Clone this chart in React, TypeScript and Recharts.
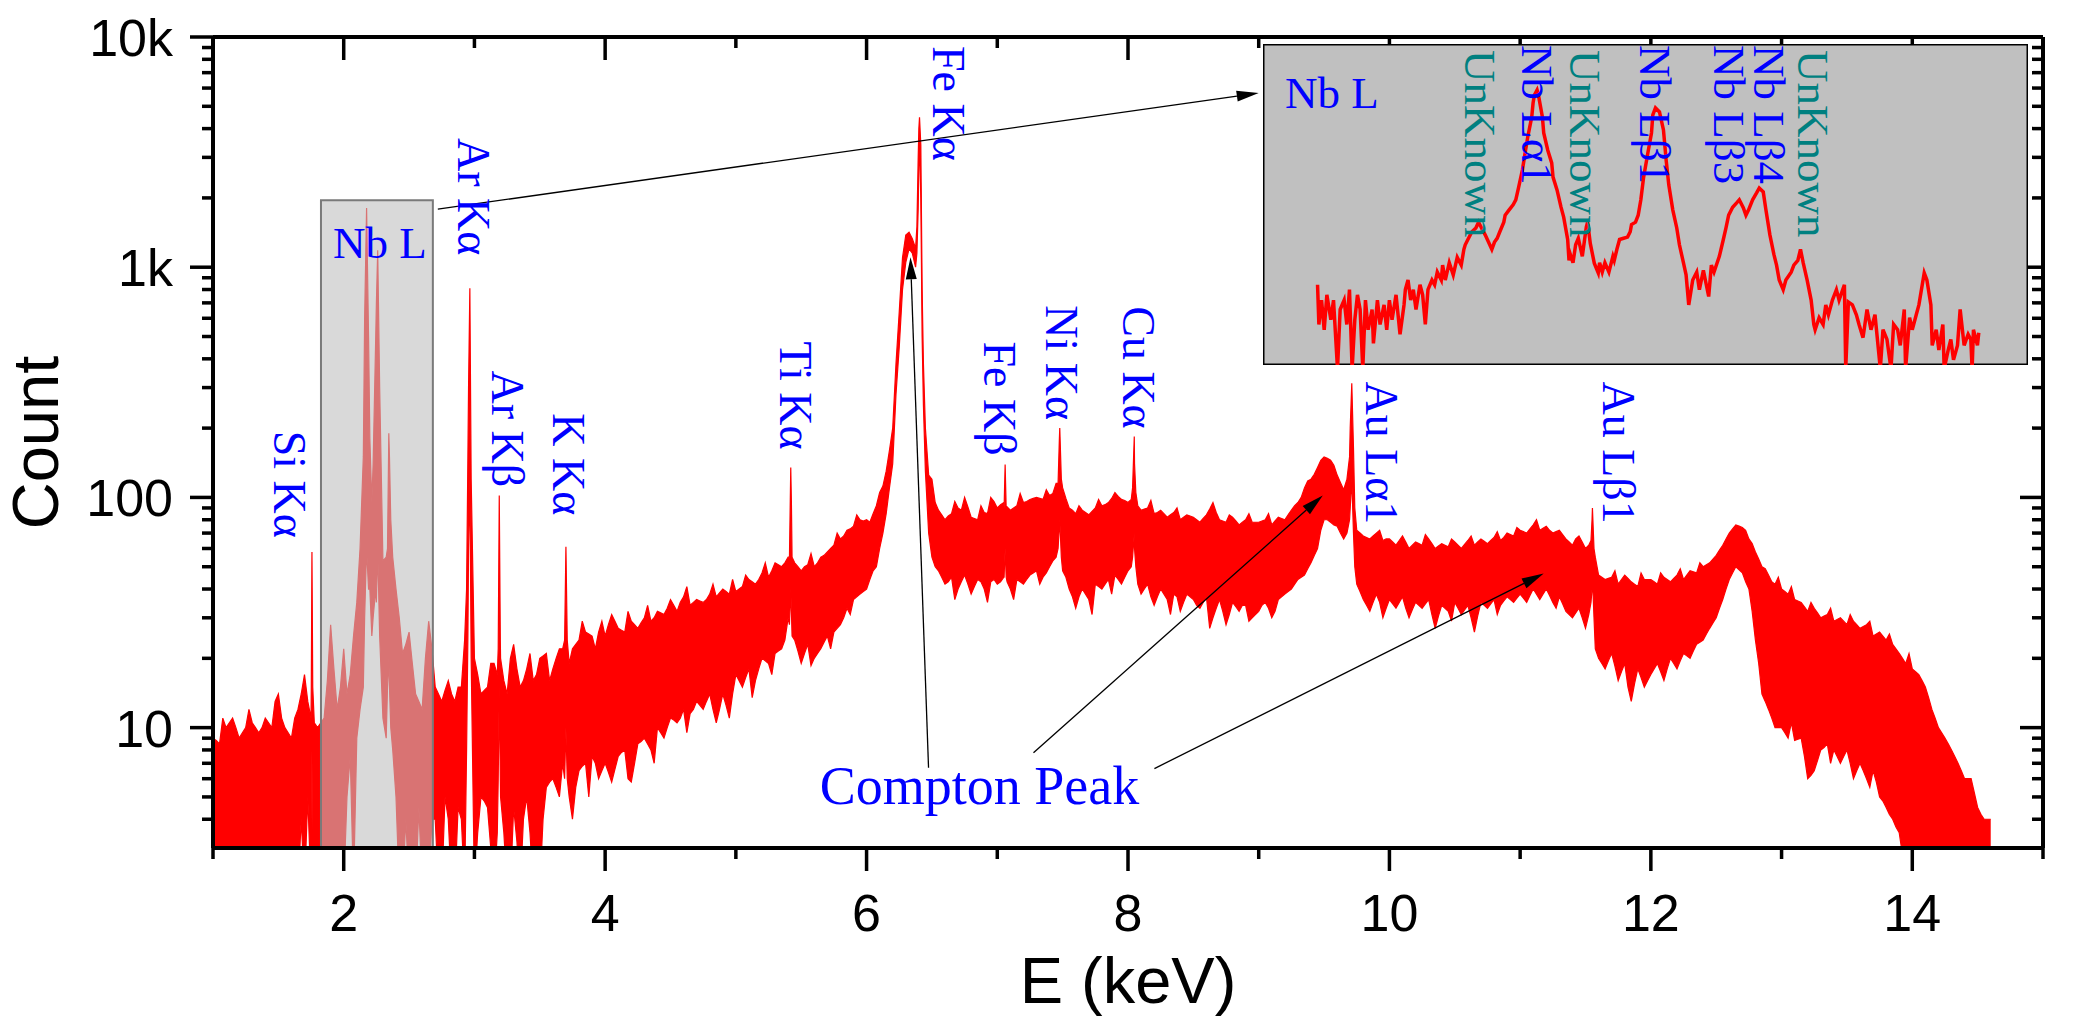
import React from 'react';
import {
  ComposedChart, LineChart, Area, Line, XAxis, YAxis,
  ReferenceArea, ReferenceLine, ReferenceDot,
} from 'recharts';

// main spectrum: channel bins (keV) with the top and bottom of the noise band (counts)
const energy = [
  1.00, 1.05, 1.10, 1.15, 1.20, 1.25, 1.30, 1.35, 1.40, 1.45, 1.50, 1.55, 1.60, 1.65, 1.70, 1.75, 1.80, 1.85, 1.90, 1.95,
  2.00, 2.05, 2.10, 2.15, 2.20, 2.25, 2.30, 2.35, 2.40, 2.45, 2.50, 2.55, 2.60, 2.65, 2.70, 2.75, 2.80, 2.85, 2.90, 2.95,
  3.00, 3.05, 3.10, 3.15, 3.20, 3.25, 3.30, 3.35, 3.40, 3.45, 3.50, 3.55, 3.60, 3.65, 3.70, 3.75, 3.80, 3.85, 3.90, 3.95,
  4.00, 4.05, 4.10, 4.15, 4.20, 4.25, 4.30, 4.35, 4.40, 4.45, 4.50, 4.55, 4.60, 4.65, 4.70, 4.75, 4.80, 4.85, 4.90, 4.95,
  5.00, 5.05, 5.10, 5.15, 5.20, 5.25, 5.30, 5.35, 5.40, 5.45, 5.50, 5.55, 5.60, 5.65, 5.70, 5.75, 5.80, 5.85, 5.90, 5.95,
  6.00, 6.05, 6.10, 6.15, 6.20, 6.25, 6.30, 6.35, 6.40, 6.45, 6.50, 6.55, 6.60, 6.65, 6.70, 6.75, 6.80, 6.85, 6.90, 6.95,
  7.00, 7.05, 7.10, 7.15, 7.20, 7.25, 7.30, 7.35, 7.40, 7.45, 7.50, 7.55, 7.60, 7.65, 7.70, 7.75, 7.80, 7.85, 7.90, 7.95,
  8.00, 8.05, 8.10, 8.15, 8.20, 8.25, 8.30, 8.35, 8.40, 8.45, 8.50, 8.55, 8.60, 8.65, 8.70, 8.75, 8.80, 8.85, 8.90, 8.95,
  9.00, 9.05, 9.10, 9.15, 9.20, 9.25, 9.30, 9.35, 9.40, 9.45, 9.50, 9.55, 9.60, 9.65, 9.70, 9.75, 9.80, 9.85, 9.90, 9.95,
  10.00, 10.05, 10.10, 10.15, 10.20, 10.25, 10.30, 10.35, 10.40, 10.45, 10.50, 10.55, 10.60, 10.65, 10.70, 10.75, 10.80, 10.85, 10.90, 10.95,
  11.00, 11.05, 11.10, 11.15, 11.20, 11.25, 11.30, 11.35, 11.40, 11.45, 11.50, 11.55, 11.60, 11.65, 11.70, 11.75, 11.80, 11.85, 11.90, 11.95,
  12.00, 12.05, 12.10, 12.15, 12.20, 12.25, 12.30, 12.35, 12.40, 12.45, 12.50, 12.55, 12.60, 12.65, 12.70, 12.75, 12.80, 12.85, 12.90, 12.95,
  13.00, 13.05, 13.10, 13.15, 13.20, 13.25, 13.30, 13.35, 13.40, 13.45, 13.50, 13.55, 13.60, 13.65, 13.70, 13.75, 13.80, 13.85, 13.90, 13.95,
  14.00, 14.05, 14.10, 14.15, 14.20, 14.25, 14.30, 14.35, 14.40, 14.45, 14.50, 14.55, 14.60,
];
const countHigh = [
  9, 8.5, 10, 11, 9, 10, 10.5, 9.5, 11, 10, 14, 10, 9, 12, 17, 11, 10, 11, 28, 12,
  22, 17, 35, 150, 180, 700, 53, 150, 40, 21, 26, 14, 12, 29, 15, 13, 16, 13, 15, 150,
  20, 14, 15, 19, 20, 14, 23, 15, 18, 16, 20, 21, 18, 22, 61, 22, 24, 26, 25, 26,
  25, 31, 27, 26, 29, 27, 30, 29, 32, 31, 36, 32, 37, 34, 36, 35, 38, 37, 40, 38,
  39, 41, 44, 42, 47, 45, 52, 50, 55, 52, 48, 51, 50, 55, 58, 62, 66, 72, 75, 80,
  80, 85, 105, 130, 200, 640, 1380, 1330, 4000, 200, 120, 88, 80, 85, 90, 100, 82, 80, 86, 100,
  90, 95, 88, 92, 95, 98, 100, 98, 102, 115, 110, 90, 85, 88, 84, 90, 92, 95, 105, 98,
  95, 140, 88, 90, 85, 88, 82, 86, 80, 84, 82, 78, 84, 95, 80, 78, 82, 76, 80, 78,
  78, 80, 76, 82, 80, 88, 95, 110, 120, 135, 150, 145, 125, 108, 200, 72, 68, 66, 70, 65,
  66, 62, 68, 60, 64, 62, 66, 60, 63, 61, 64, 60, 65, 62, 66, 63, 67, 65, 70, 68,
  72, 70, 76, 72, 75, 70, 72, 66, 62, 68, 60, 80, 46, 44, 45, 42, 46, 43, 41, 44,
  44, 42, 45, 43, 46, 44, 48, 47, 50, 52, 56, 62, 70, 76, 74, 66, 58, 50, 46, 42,
  40, 38, 36, 35, 32, 33, 30, 31, 29, 30, 28, 29, 27, 28, 25, 26, 24, 23, 21, 19,
  18, 17, 15, 12, 10, 9, 8, 7, 6, 6, 4.5, 4, 4,
];
const countLow = [
  2, 2, 2, 2, 2, 2, 2, 2, 2, 2, 2, 2, 2, 2, 2, 2, 2, 2, 2, 2,
  2, 7.5, 9, 15, 40, 35, 11, 15, 5, 2, 2, 2, 2, 2, 4, 2, 4, 2, 4, 25,
  2, 5, 4.5, 2, 5, 2, 4.5, 2, 5, 2, 2, 5.5, 6, 5, 10, 4, 6.5, 7, 7.5, 6,
  7, 5.8, 7.5, 8, 5.8, 8.5, 9, 8, 10, 9, 11, 10.5, 12, 11.5, 13, 12, 14, 10.5, 14, 11,
  17, 15, 18, 16, 20, 19, 21, 22, 30, 24, 19, 23, 20, 22, 25, 26, 28, 33, 36, 38,
  40, 48, 60, 85, 140, 450, 1050, 1150, 2800, 130, 55, 48, 42, 45, 40, 46, 38, 44, 40, 43,
  42, 45, 40, 44, 42, 46, 48, 45, 50, 55, 48, 40, 33, 40, 36, 42, 40, 44, 46, 42,
  48, 60, 38, 42, 34, 40, 36, 38, 32, 38, 36, 33, 37, 30, 36, 28, 35, 32, 34, 30,
  32, 35, 30, 36, 38, 40, 44, 46, 52, 60, 80, 78, 75, 66, 90, 42, 36, 32, 38, 30,
  36, 33, 37, 30, 35, 33, 36, 27, 34, 32, 35, 31, 34, 26, 35, 33, 36, 34, 37, 35,
  38, 35, 40, 36, 40, 35, 37, 32, 30, 33, 27, 40, 20, 18, 21, 16, 19, 13, 18, 15,
  17, 19, 16, 20, 18, 21, 20, 23, 24, 27, 30, 36, 44, 50, 47, 40, 24, 14, 12, 10,
  10, 9, 8.8, 9, 6, 6.5, 8, 8.5, 8, 7, 8, 6, 7, 6, 6.5, 5, 4.5, 4, 3.5, 2,
  2, 2, 2, 2, 2, 2, 2, 2, 2, 2, 2, 2, 2,
];

// the half-way channels between the bins above
const energyMid = [
  1.025, 1.075, 1.125, 1.175, 1.225, 1.275, 1.325, 1.375, 1.425, 1.475, 1.525, 1.575, 1.625, 1.675, 1.725, 1.775, 1.825, 1.875, 1.925, 1.975,
  2.025, 2.075, 2.125, 2.175, 2.225, 2.275, 2.325, 2.375, 2.425, 2.475, 2.525, 2.575, 2.625, 2.675, 2.725, 2.775, 2.825, 2.875, 2.925, 2.975,
  3.025, 3.075, 3.125, 3.175, 3.225, 3.275, 3.325, 3.375, 3.425, 3.475, 3.525, 3.575, 3.625, 3.675, 3.725, 3.775, 3.825, 3.875, 3.925, 3.975,
  4.025, 4.075, 4.125, 4.175, 4.225, 4.275, 4.325, 4.375, 4.425, 4.475, 4.525, 4.575, 4.625, 4.675, 4.725, 4.775, 4.825, 4.875, 4.925, 4.975,
  5.025, 5.075, 5.125, 5.175, 5.225, 5.275, 5.325, 5.375, 5.425, 5.475, 5.525, 5.575, 5.625, 5.675, 5.725, 5.775, 5.825, 5.875, 5.925, 5.975,
  6.025, 6.075, 6.125, 6.175, 6.225, 6.275, 6.325, 6.375, 6.425, 6.475, 6.525, 6.575, 6.625, 6.675, 6.725, 6.775, 6.825, 6.875, 6.925, 6.975,
  7.025, 7.075, 7.125, 7.175, 7.225, 7.275, 7.325, 7.375, 7.425, 7.475, 7.525, 7.575, 7.625, 7.675, 7.725, 7.775, 7.825, 7.875, 7.925, 7.975,
  8.025, 8.075, 8.125, 8.175, 8.225, 8.275, 8.325, 8.375, 8.425, 8.475, 8.525, 8.575, 8.625, 8.675, 8.725, 8.775, 8.825, 8.875, 8.925, 8.975,
  9.025, 9.075, 9.125, 9.175, 9.225, 9.275, 9.325, 9.375, 9.425, 9.475, 9.525, 9.575, 9.625, 9.675, 9.725, 9.775, 9.825, 9.875, 9.925, 9.975,
  10.025, 10.075, 10.125, 10.175, 10.225, 10.275, 10.325, 10.375, 10.425, 10.475, 10.525, 10.575, 10.625, 10.675, 10.725, 10.775, 10.825, 10.875, 10.925, 10.975,
  11.025, 11.075, 11.125, 11.175, 11.225, 11.275, 11.325, 11.375, 11.425, 11.475, 11.525, 11.575, 11.625, 11.675, 11.725, 11.775, 11.825, 11.875, 11.925, 11.975,
  12.025, 12.075, 12.125, 12.175, 12.225, 12.275, 12.325, 12.375, 12.425, 12.475, 12.525, 12.575, 12.625, 12.675, 12.725, 12.775, 12.825, 12.875, 12.925, 12.975,
  13.025, 13.075, 13.125, 13.175, 13.225, 13.275, 13.325, 13.375, 13.425, 13.475, 13.525, 13.575, 13.625, 13.675, 13.725, 13.775, 13.825, 13.875, 13.925, 13.975,
  14.025, 14.075, 14.125, 14.175, 14.225, 14.275, 14.325, 14.375, 14.425, 14.475, 14.525, 14.575,
];
const countHighMid = [
  8.8, 11, 10.5, 10, 9.5, 12, 10, 10, 10.5, 13, 11, 9.5, 11, 14, 13, 10.5, 10.5, 16, 18, 15,
  14, 25, 60, 1806, 140, 300, 55, 55, 30, 23, 19, 13, 20, 22, 14, 14.5, 14, 15, 24, 120,
  17, 14.5, 19, 17, 16, 20, 18, 16, 21, 17, 20.5, 16, 20, 22, 19, 23, 29, 25.5, 22, 29,
  28, 29, 26.5, 32, 28, 28.5, 34, 30, 31.5, 33, 34, 35, 41, 35, 35.5, 36, 42, 38.5, 39, 44,
  40, 46, 43, 44, 52, 48, 51, 52, 95, 50, 50, 57, 52, 56, 60, 70, 68, 73, 84, 79,
  78, 92, 112, 160, 380, 1100, 1420, 1210, 800, 125, 95, 84, 83, 96, 88, 91, 81, 92, 85, 96,
  93, 91, 90, 104, 96, 99, 99, 108, 104, 180, 99, 88, 92, 86, 87, 98, 93, 99, 101, 97,
  98, 92, 89, 97, 86, 85, 84, 90, 82, 83, 80, 81, 89, 86, 79, 84, 79, 78, 85, 78,
  79, 85, 79, 81, 84, 92, 100, 118, 126, 145, 148, 138, 116, 120, 164, 70, 67, 68, 72, 66,
  64, 65, 64, 62, 63, 69, 63, 61.5, 62, 66, 62, 62.5, 68, 64, 64.5, 65, 71, 67, 69, 74,
  71, 73, 80, 73.5, 72, 71, 69, 64, 66, 64, 62, 55, 45, 44.5, 48, 44, 44.5, 42, 47, 44,
  43, 47, 44, 44.5, 49, 46, 47.5, 52, 51, 54, 59, 66, 73, 75, 72, 63, 54, 49, 43, 45,
  39, 41, 35.5, 33.5, 35, 31.5, 30.5, 33, 29.5, 29, 31, 28, 27.5, 29, 25.5, 25, 25.5, 22, 20, 21,
  17.5, 16, 13.5, 11, 9.5, 8.5, 7.5, 6.5, 6, 5.2, 4.2, 4,
];
const countLowMid = [
  2, 2, 2, 2, 2, 2, 2, 2, 2, 2, 2, 2, 2, 4, 5, 2, 2, 2, 2, 2,
  5, 2, 12, 60, 30, 25, 9, 8, 2, 4, 2, 4.5, 2, 4, 2, 5, 2, 4.5, 2, 20,
  3.5, 4.8, 3, 3.5, 3.5, 2, 3.2, 4, 3.5, 2, 4, 5.8, 5.5, 7, 5, 5.5, 6.8, 5, 7, 6.5,
  6.4, 6.6, 7.8, 6, 7, 8.7, 8.5, 7, 9.5, 10, 10.8, 11, 9.5, 12, 12.5, 13, 12, 12, 12.5, 14,
  16, 16.5, 13.5, 18, 19.5, 17, 21.5, 24, 32, 21.5, 21, 18.6, 21, 23.5, 22, 27, 30, 31, 37, 39,
  44, 50, 70, 110, 280, 800, 1200, 1000, 500, 70, 50, 45, 43, 36, 43, 42, 41, 43, 35, 44,
  43, 43, 36, 43, 44, 47, 42, 47, 53, 75, 45, 37, 37, 38, 31, 41, 42, 38, 44, 45,
  50, 42, 40, 37, 37, 38, 31, 37, 35, 37, 34, 35, 27, 33, 32, 31, 33.5, 34, 29, 31,
  34, 33, 32, 37, 39, 42, 45, 49, 56, 72, 80, 76, 70, 70, 70, 39, 34, 35, 35, 33,
  34.5, 35, 33, 32.5, 34, 34.5, 31, 30.5, 33, 29, 33, 32.5, 30, 30.5, 34, 34.5, 31, 35.5, 36, 36.5,
  36.5, 37.5, 38, 38, 37.5, 33, 34.5, 31, 31.5, 30, 31, 22, 19, 19.5, 18.5, 17.5, 15, 15.5, 16.5, 16,
  18, 17.5, 18, 19, 19.5, 20.5, 21.5, 23.5, 25.5, 28.5, 33, 40, 47, 48.5, 43, 32, 19, 13, 11, 10,
  9.5, 10.5, 8.9, 7.5, 6.2, 7.2, 8.2, 7, 7.5, 7.5, 7, 6.5, 6.5, 5.5, 5.8, 4.8, 4.2, 3.7, 2.8, 2,
  2, 2, 2, 2, 2, 2, 2, 2, 2, 2, 2, 2,
];

// narrow fluorescence lines, sampled finer than the bins
const peakEnergy = [
  1.752, 1.757, 1.763,
  2.16, 2.19, 2.215, 2.245, 2.26, 2.335, 2.345, 2.36,
  2.94, 2.955, 2.965,
  3.182, 3.19, 3.198, 3.69, 3.71,
  5.41, 5.42, 5.43,
  6.385, 6.395, 6.405, 6.415, 6.435,
  7.052, 7.06, 7.068, 7.465, 7.478, 7.49,
  8.035, 8.048, 8.06,
  9.695, 9.712, 9.735,
  11.542, 11.553, 11.565,
];
const peakHigh = [
  15, 58, 15,
  600, 500, 95, 500, 1184, 60, 190, 80,
  40, 300, 811,
  22, 102, 24, 24, 24,
  55, 135, 55,
  1500, 3000, 4480, 3400, 380,
  90, 139, 90, 115, 200, 120,
  110, 184, 105,
  150, 313, 90,
  65, 90, 60,
];
const peakLow = [
  2, 8, 2,
  30, 40, 25, 40, 60, 15, 20, 10,
  8, 60, 120,
  6, 15, 6, 6, 6,
  28, 40, 25,
  1150, 1800, 3500, 2000, 250,
  45, 60, 45, 60, 80, 55,
  55, 70, 50,
  80, 120, 50,
  35, 45, 30,
];

// inset: zoom on the Nb L lines (eV, counts)
const insetEnergy = [
  2001, 2002, 2004, 2006, 2008, 2011, 2013, 2016, 2018, 2021, 2023, 2025, 2027, 2029, 2031, 2033, 2035, 2037, 2039, 2042,
  2043, 2046, 2048, 2051, 2053, 2055, 2057, 2060, 2063, 2066, 2067, 2069, 2071, 2073, 2075, 2078, 2080, 2082, 2084, 2087,
  2089, 2091, 2094, 2095, 2097, 2100, 2103, 2106, 2109, 2111, 2112, 2114, 2117, 2120, 2122, 2125, 2127, 2132, 2134, 2136,
  2138, 2141, 2142, 2145, 2148, 2150, 2152, 2155, 2157, 2159, 2162, 2163, 2164, 2166, 2167, 2170, 2171, 2174, 2177, 2178,
  2181, 2184, 2186, 2189, 2190, 2191, 2193, 2195, 2197, 2200, 2203, 2204, 2206, 2209, 2212, 2213, 2215, 2217, 2220, 2223,
  2224, 2226, 2228, 2231, 2234, 2236, 2237, 2240, 2242, 2244, 2246, 2249, 2252, 2253, 2255, 2258, 2261, 2263, 2265, 2268,
  2271, 2273, 2276, 2278, 2280, 2283, 2286, 2288, 2291, 2295, 2297, 2299, 2303, 2306, 2308, 2310, 2313, 2316, 2318, 2321,
  2323, 2325, 2328, 2331, 2333, 2336, 2338, 2341, 2344, 2346, 2348, 2351, 2353, 2357, 2359, 2362, 2364, 2366, 2369, 2372,
  2374, 2375, 2378, 2381, 2383, 2385, 2388, 2391, 2393, 2397, 2398, 2400, 2403, 2406, 2408, 2411, 2414, 2417, 2420, 2424,
  2426, 2429, 2432, 2434, 2437, 2439, 2442, 2443, 2446, 2448, 2451, 2453, 2457, 2459, 2462, 2463, 2466, 2468, 2471, 2472,
  2475, 2477, 2479, 2482, 2484, 2487, 2490, 2492, 2493, 2494, 2497, 2498,
];
const insetCount = [
  8.8, 3.0, 5.8, 2.6, 6.7, 3.4, 5.8, 0.9, 4.5, 5.8, 3.0, 7.7, 0.9, 3.4, 6.7, 4.5, 0.9, 5.8, 2.6, 4.5,
  1.8, 5.8, 3.0, 5.1, 2.6, 5.8, 3.4, 6.7, 2.3, 5.1, 7.7, 10, 5.8, 7.7, 4.5, 8.8, 6.7, 3.0, 7.7, 10,
  8.8, 12.4, 10, 15, 10, 16, 11.5, 18.5, 15, 23, 26, 30, 37, 41, 48, 39, 34, 23, 28, 31,
  37, 48, 58, 67, 77, 88, 121, 198, 313, 483, 831, 1213, 1507, 1726, 1507, 831, 538, 340, 239, 163,
  115, 72, 55, 30, 17, 20, 16, 26, 31, 19, 42, 48, 27, 15.8, 12.1, 16, 12.4, 16, 12.4, 19,
  17, 23, 30, 31, 32, 37, 45, 48, 58, 88, 159, 296, 538, 877, 1060, 951, 584, 259, 132, 67,
  41, 26, 16, 11.5, 5.1, 10, 12.4, 7.7, 13, 6.4, 15, 12.4, 19, 30, 41, 58, 72, 81, 88, 71,
  58, 67, 88, 106, 121, 109, 67, 34, 20, 15, 10, 7.7, 10, 12.4, 15, 17, 23, 16, 10, 5.8,
  3.0, 2.6, 3.6, 3.0, 5.1, 3.9, 5.8, 7.7, 5.8, 8.8, 0.9, 5.5, 5.1, 3.9, 3.0, 2.1, 4.5, 2.6, 3.9, 0.9,
  2.6, 2.0, 0.9, 3.0, 2.6, 1.7, 4.5, 0.9, 3.6, 2.6, 3.9, 5.1, 12.1, 10, 5.1, 1.7, 2.6, 1.5, 3.0, 0.9,
  1.5, 2.0, 1.15, 1.7, 4.5, 1.7, 2.3, 2.0, 0.9, 2.6, 1.7, 2.4,
];

const xTicks = [1, 2, 3, 4, 5, 6, 7, 8, 9, 10, 11, 12, 13, 14, 15];
const yTicks = [
  4, 5, 6, 7, 8, 9, 10, 20, 30, 40, 50, 60, 70, 80, 90, 100,
  200, 300, 400, 500, 600, 700, 800, 900, 1000, 2000, 3000, 4000, 5000, 6000, 7000, 8000, 9000, 10000,
];
const yMajor = [10, 100, 1000, 10000];

const peakLabels = [
  { text: 'Si Kα', e: 1.466, c: 195 },
  { text: 'Ar Kα', e: 2.873, c: 3640 },
  { text: 'Ar Kβ', e: 3.133, c: 356 },
  { text: 'K Kα', e: 3.599, c: 232 },
  { text: 'Ti Kα', e: 5.335, c: 476 },
  { text: 'Fe Kα', e: 6.505, c: 9140 },
  { text: 'Fe Kβ', e: 6.902, c: 476 },
  { text: 'Ni Kα', e: 7.376, c: 684 },
  { text: 'Cu Kα', e: 7.965, c: 677 },
  { text: 'Au Lα1', e: 9.823, c: 319 },
  { text: 'Au Lβ1', e: 11.635, c: 319 },
];
const comptonArrows = [
  { from: [6.474, 6.7], to: [6.336, 1104] },
  { from: [7.277, 7.78], to: [9.49, 102] },
  { from: [8.202, 6.64], to: [11.18, 46.7] },
];
const insetLabels = [
  { text: 'UnKnown', e: 2112, c: 5100, teal: true },
  { text: 'Nb Lα1', e: 2155, c: 5840, teal: false },
  { text: 'UnKnown', e: 2191, c: 5100, teal: true },
  { text: 'Nb Lβ1', e: 2243, c: 5840, teal: false },
  { text: 'Nb Lβ3', e: 2299, c: 5840, teal: false },
  { text: 'Nb Lβ4', e: 2329, c: 5840, teal: false },
  { text: 'UnKnown', e: 2362, c: 5100, teal: true },
];

const spectrum = energy
  .map((e, i) => ({ e, range: [countLow[i], countHigh[i]] }))
  .concat(energyMid.map((e, i) => ({ e, range: [countLowMid[i], countHighMid[i]] })))
  .concat(peakEnergy.map((e, i) => ({ e, range: [peakLow[i], peakHigh[i]] })))
  .sort((a, b) => a.e - b.e);
const insetData = insetEnergy.map((e, i) => ({ e, c: insetCount[i] }));

const SANS = '"Liberation Sans", Arial, sans-serif';
const SERIF = '"Liberation Serif", "Times New Roman", serif';
const BLUE = '#0000ff';
const TEAL = '#008080';

const fmtY = (v: number) => (v >= 1000 ? `${v / 1000}k` : `${v}`);

const BottomTick = ({ x, y, payload }: any) => {
  const major = payload.value % 2 === 0;
  return (
    <g>
      <line x1={x} x2={x} y1={y} y2={y + (major ? 23 : 11)} stroke="#000" strokeWidth={3.5} />
      {major && (
        <text x={x} y={y + 83} textAnchor="middle" fontFamily={SANS} fontSize={52} fill="#000">
          {payload.value}
        </text>
      )}
    </g>
  );
};
const TopTick = ({ x, y, payload }: any) => {
  const major = payload.value % 2 === 0;
  return <line x1={x} x2={x} y1={y} y2={y + (major ? 23 : 11)} stroke="#000" strokeWidth={3.5} />;
};
const LeftTick = ({ x, y, payload }: any) => {
  const major = yMajor.includes(payload.value);
  return (
    <g>
      <line x1={x - (major ? 23 : 11)} x2={x} y1={y} y2={y} stroke="#000" strokeWidth={3.5} />
      {major && (
        <text x={x - 40} y={y + 19} textAnchor="end" fontFamily={SANS} fontSize={52} fill="#000">
          {fmtY(payload.value)}
        </text>
      )}
    </g>
  );
};
const RightTick = ({ x, y, payload }: any) => {
  const major = yMajor.includes(payload.value);
  return <line x1={x - (major ? 23 : 11)} x2={x} y1={y} y2={y} stroke="#000" strokeWidth={3.5} />;
};

const CountTitle = ({ viewBox }: any) => {
  const cx = viewBox.x + 58;
  const cy = viewBox.y + viewBox.height / 2;
  return (
    <text x={cx} y={cy} transform={`rotate(-90 ${cx} ${cy})`} textAnchor="middle"
      fontFamily={SANS} fontSize={65} fill="#000">Count</text>
  );
};
const EnergyTitle = ({ viewBox }: any) => (
  <text x={viewBox.x + viewBox.width / 2} y={viewBox.y + 155} textAnchor="middle"
    fontFamily={SANS} fontSize={65} fill="#000">E (keV)</text>
);

const Arrow = ({ x1, y1, x2, y2 }: any) => {
  const dx = x2 - x1;
  const dy = y2 - y1;
  const len = Math.hypot(dx, dy) || 1;
  const ux = dx / len;
  const uy = dy / len;
  const bx = x2 - ux * 22;
  const by = y2 - uy * 22;
  return (
    <g>
      <line x1={x1} y1={y1} x2={bx} y2={by} stroke="#000" strokeWidth={1.3} />
      <polygon
        points={`${x2},${y2} ${bx - uy * 5.5},${by + ux * 5.5} ${bx + uy * 5.5},${by - ux * 5.5}`}
        fill="#000"
      />
    </g>
  );
};

const rotatedText = (text: string, color: string, size: number) => ({ cx, cy }: any) => (
  <text x={cx} y={cy} transform={`rotate(90 ${cx} ${cy})`} fontFamily={SERIF} fontSize={size} fill={color}>
    {text}
  </text>
);
const flatText = (text: string, color: string, size: number, anchor: string) => ({ cx, cy }: any) => (
  <text x={cx} y={cy} textAnchor={anchor} fontFamily={SERIF} fontSize={size} fill={color}>
    {text}
  </text>
);

function Inset() {
  return (
    <div
      style={{
        position: 'absolute', left: 1263, top: 44, width: 765, height: 321,
        background: '#c0c0c0', boxShadow: 'inset 0 0 0 1.5px #000',
      }}
    >
      <LineChart width={765} height={321} data={insetData} margin={{ top: 0, right: 0, bottom: 0, left: 0 }}
        style={{ overflow: 'visible' }}>
        <XAxis dataKey="e" type="number" domain={[1960, 2535]} allowDataOverflow hide />
        <YAxis type="number" scale="log" domain={[1, 6000]} allowDataOverflow hide />
        <Line dataKey="c" type="linear" stroke="#ff0000" strokeWidth={3.5} dot={false} activeDot={false}
          isAnimationActive={false} />
        <ReferenceDot x={1976.5} y={1060} ifOverflow="visible" shape={flatText('Nb L', BLUE, 45, 'start')} />
        {insetLabels.map((l, i) => (
          <ReferenceDot key={i} x={l.e} y={l.c} ifOverflow="visible"
            shape={rotatedText(l.text, l.teal ? TEAL : BLUE, 45)} />
        ))}
      </LineChart>
    </div>
  );
}

export default function App() {
  return (
    <div style={{ position: 'absolute', left: 0, top: 0, width: 2081, height: 1019, background: '#fff' }}>
      <ComposedChart width={2081} height={1019} data={spectrum} margin={{ top: 0, right: 0, bottom: 0, left: 0 }}>
        <XAxis dataKey="e" type="number" domain={[1, 15]} ticks={xTicks} interval={0} allowDataOverflow
          height={171} tickSize={0} tickMargin={0} tickLine={false}
          axisLine={{ stroke: '#000', strokeWidth: 4 }} tick={(p: any) => <BottomTick {...p} />}
          label={(p: any) => <EnergyTitle {...p} />} />
        <XAxis xAxisId="top" orientation="top" dataKey="e" type="number" domain={[1, 15]} ticks={xTicks}
          interval={0} allowDataOverflow height={37} tickSize={0} tickMargin={0} tickLine={false}
          axisLine={{ stroke: '#000', strokeWidth: 4 }} tick={(p: any) => <TopTick {...p} />} />
        <YAxis type="number" scale="log" domain={[3, 10000]} ticks={yTicks} interval={0} allowDataOverflow
          width={213} tickSize={0} tickMargin={0} tickLine={false}
          axisLine={{ stroke: '#000', strokeWidth: 4 }} tick={(p: any) => <LeftTick {...p} />}
          label={(p: any) => <CountTitle {...p} />} />
        <YAxis yAxisId="right" orientation="right" type="number" scale="log" domain={[3, 10000]} ticks={yTicks}
          interval={0} allowDataOverflow width={38} tickSize={0} tickMargin={0} tickLine={false}
          axisLine={{ stroke: '#000', strokeWidth: 4 }} tick={(p: any) => <RightTick {...p} />} />

        <Area dataKey="range" type="linear" stroke="#ff0000" strokeWidth={1.2} fill="#ff0000" fillOpacity={1}
          dot={false} activeDot={false} isAnimationActive={false} zIndex={100} />

        <ReferenceArea x1={1.826} x2={2.682} y1={3} y2={1955} fill="#c0c0c0" fillOpacity={0.6}
          stroke="#7a7a7a" strokeWidth={2} zIndex={150} />

        <ReferenceLine segment={[{ x: 2.72, y: 1787 }, { x: 9.0, y: 5710 }]} ifOverflow="visible" shape={Arrow} zIndex={450} />
        {comptonArrows.map((a, i) => (
          <ReferenceLine key={i} segment={[{ x: a.from[0], y: a.from[1] }, { x: a.to[0], y: a.to[1] }]}
            ifOverflow="visible" shape={Arrow} zIndex={450} />
        ))}

        <ReferenceDot x={2.277} y={1094} ifOverflow="visible" shape={flatText('Nb L', BLUE, 45, 'middle')} zIndex={650} />
        <ReferenceDot x={6.864} y={4.68} ifOverflow="visible" shape={flatText('Compton Peak', BLUE, 54, 'middle')} zIndex={650} />
        {peakLabels.map((l, i) => (
          <ReferenceDot key={i} x={l.e} y={l.c} ifOverflow="visible" shape={rotatedText(l.text, BLUE, 46)} zIndex={650} />
        ))}
      </ComposedChart>
      <Inset />
    </div>
  );
}
